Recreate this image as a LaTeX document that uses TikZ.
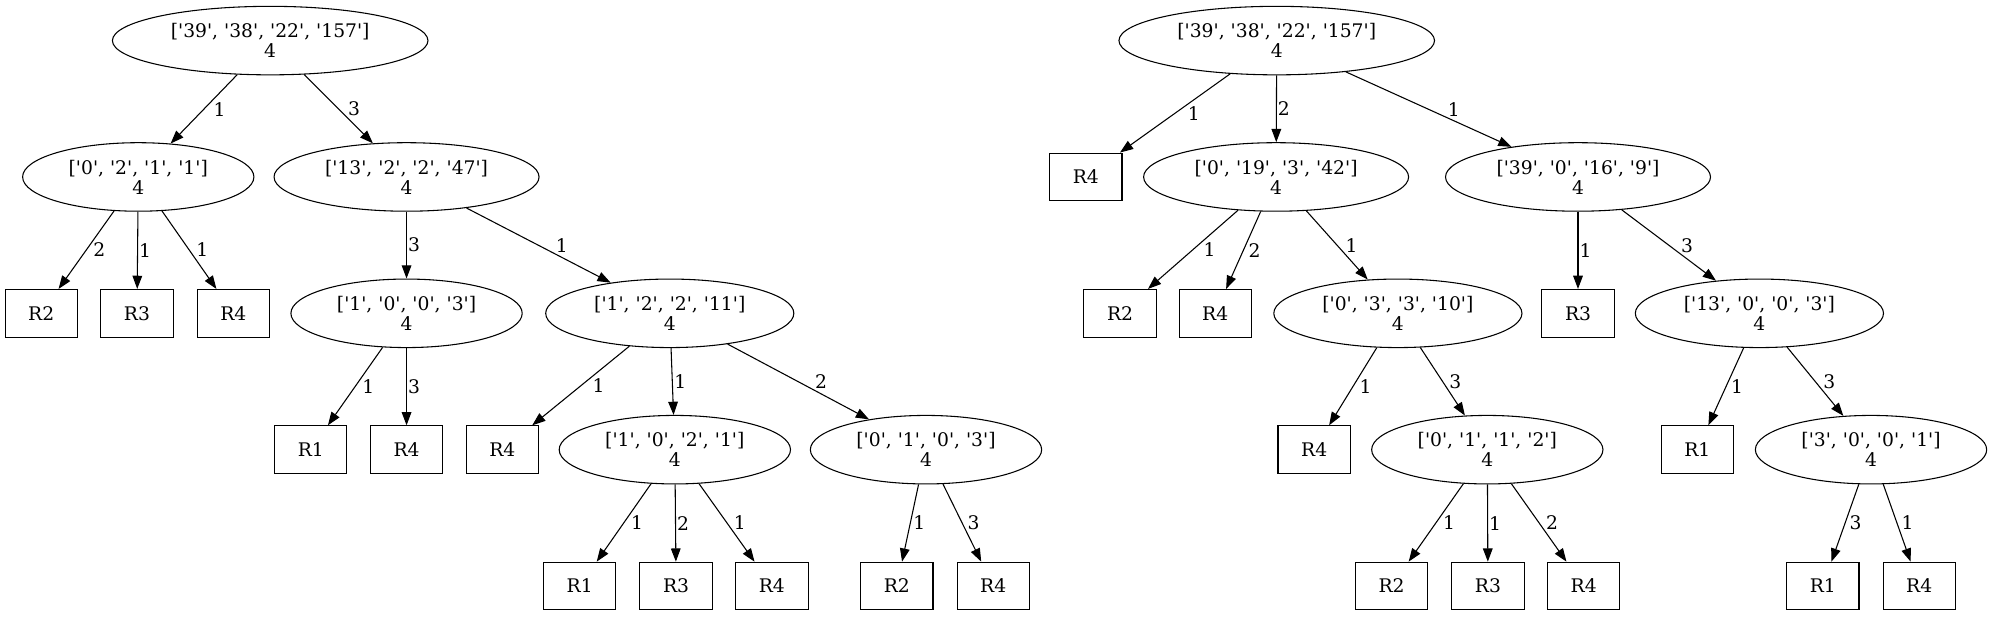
\documentclass[tikz,border=0pt]{standalone}
\usepackage{fontspec}
\newfontfamily\gvfont{DejaVu Serif}[Ligatures=TeXOff]
\usetikzlibrary{shapes,arrows.meta,positioning}

\tikzset{
  split/.style={draw, ellipse, align=center, inner xsep=0.24cm, inner ysep=0.05cm, minimum height=1.35cm},
  leaf/.style={draw, rectangle, minimum width=1.425cm, minimum height=0.94cm},
  branch/.style={-{Triangle[length=0.26cm,width=0.19cm]}},
  elab/.style={midway, right, inner sep=0pt, xshift=#1},
  elab/.default=0.02cm
}

\begin{document}
\begin{tikzpicture}[x=0.025cm, y=-0.025cm, line width=0.6pt, font=\gvfont\fontsize{10.5}{11.2}\selectfont]
    \useasboundingbox (0,0) rectangle (1568,486);

    % Left tree
    \node[split] (lroot) at (213,32) {['39', '38', '22', '157']\\4};
    \node[split] (la) at (109,139.5) {['0', '2', '1', '1']\\4};
    \node[split] (lb) at (320.5,139.5) {['13', '2', '2', '47']\\4};
    \node[leaf] (la1) at (32.5,247) {R2};
    \node[leaf] (la2) at (108,247) {R3};
    \node[leaf] (la3) at (184,247) {R4};
    \node[split] (lba) at (320.5,247) {['1', '0', '0', '3']\\4};
    \node[split] (lbb) at (528,247) {['1', '2', '2', '11']\\4};
    \node[leaf] (lbaa) at (245,354.5) {R1};
    \node[leaf] (lbab) at (320.5,354.5) {R4};
    \node[leaf] (lbba) at (396,354.5) {R4};
    \node[split] (lbbb) at (532,354.5) {['1', '0', '2', '1']\\4};
    \node[split] (lbbc) at (730,354.5) {['0', '1', '0', '3']\\4};
    \node[leaf] (lbbba) at (457,462) {R1};
    \node[leaf] (lbbbb) at (533,462) {R3};
    \node[leaf] (lbbbc) at (608.5,462) {R4};
    \node[leaf] (lbbca) at (707,462) {R2};
    \node[leaf] (lbbcb) at (783,462) {R4};

    % Right tree
    \node[split] (rroot) at (1006.5,32) {['39', '38', '22', '157']\\4};
    \node[leaf] (ra) at (856,139.5) {R4};
    \node[split] (rb) at (1006,139.5) {['0', '19', '3', '42']\\4};
    \node[split] (rc) at (1244,139.5) {['39', '0', '16', '9']\\4};
    \node[leaf] (rba) at (883,247) {R2};
    \node[leaf] (rbb) at (958,247) {R4};
    \node[split] (rbc) at (1102,247) {['0', '3', '3', '10']\\4};
    \node[leaf] (rca) at (1244,247) {R3};
    \node[split] (rcb) at (1387,247) {['13', '0', '0', '3']\\4};
    \node[leaf] (rbca) at (1036,354.5) {R4};
    \node[split] (rbcb) at (1172.5,354.5) {['0', '1', '1', '2']\\4};
    \node[leaf] (rcba) at (1338,354.5) {R1};
    \node[split] (rcbb) at (1475,354.5) {['3', '0', '0', '1']\\4};
    \node[leaf] (rbcba) at (1097,462) {R2};
    \node[leaf] (rbcbb) at (1173,462) {R3};
    \node[leaf] (rbcbc) at (1248.5,462) {R4};
    \node[leaf] (rcbba) at (1437,462) {R1};
    \node[leaf] (rcbbb) at (1513,462) {R4};

    % Branches
    \foreach \a/\b/\l/\s in {lroot/la/1/0.18cm, lroot/lb/3/0.18cm,
        la/la1/2/0.13cm, la/la2/1/0.02cm, la/la3/1/0.13cm,
        lb/lba/3/0.02cm, lb/lbb/1/0.33cm,
        lba/lbaa/1/0.13cm, lba/lbab/3/0.02cm,
        lbb/lbba/1/0.22cm, lbb/lbbb/1/0.03cm, lbb/lbbc/2/0.32cm,
        lbbb/lbbba/1/0.13cm, lbbb/lbbbb/2/0.02cm, lbbb/lbbbc/1/0.13cm,
        lbbc/lbbca/1/0.05cm, lbbc/lbbcb/3/0.1cm,
        rroot/ra/1/0.24cm, rroot/rb/2/0.02cm, rroot/rc/1/0.37cm,
        rb/rba/1/0.2cm, rb/rbb/2/0.09cm, rb/rbc/1/0.16cm,
        rc/rca/1/0.02cm, rc/rcb/3/0.23cm,
        rbc/rbca/1/0.12cm, rbc/rbcb/3/0.12cm,
        rcb/rcba/1/0.09cm, rcb/rcbb/3/0.15cm,
        rbcb/rbcba/1/0.13cm, rbcb/rbcbb/1/0.02cm, rbcb/rbcbc/2/0.13cm,
        rcbb/rcbba/3/0.08cm, rcbb/rcbbb/1/0.08cm} {
        \draw[branch] (\a) -- node[elab=\s] {\l} (\b);
    }
\end{tikzpicture}
\end{document}
